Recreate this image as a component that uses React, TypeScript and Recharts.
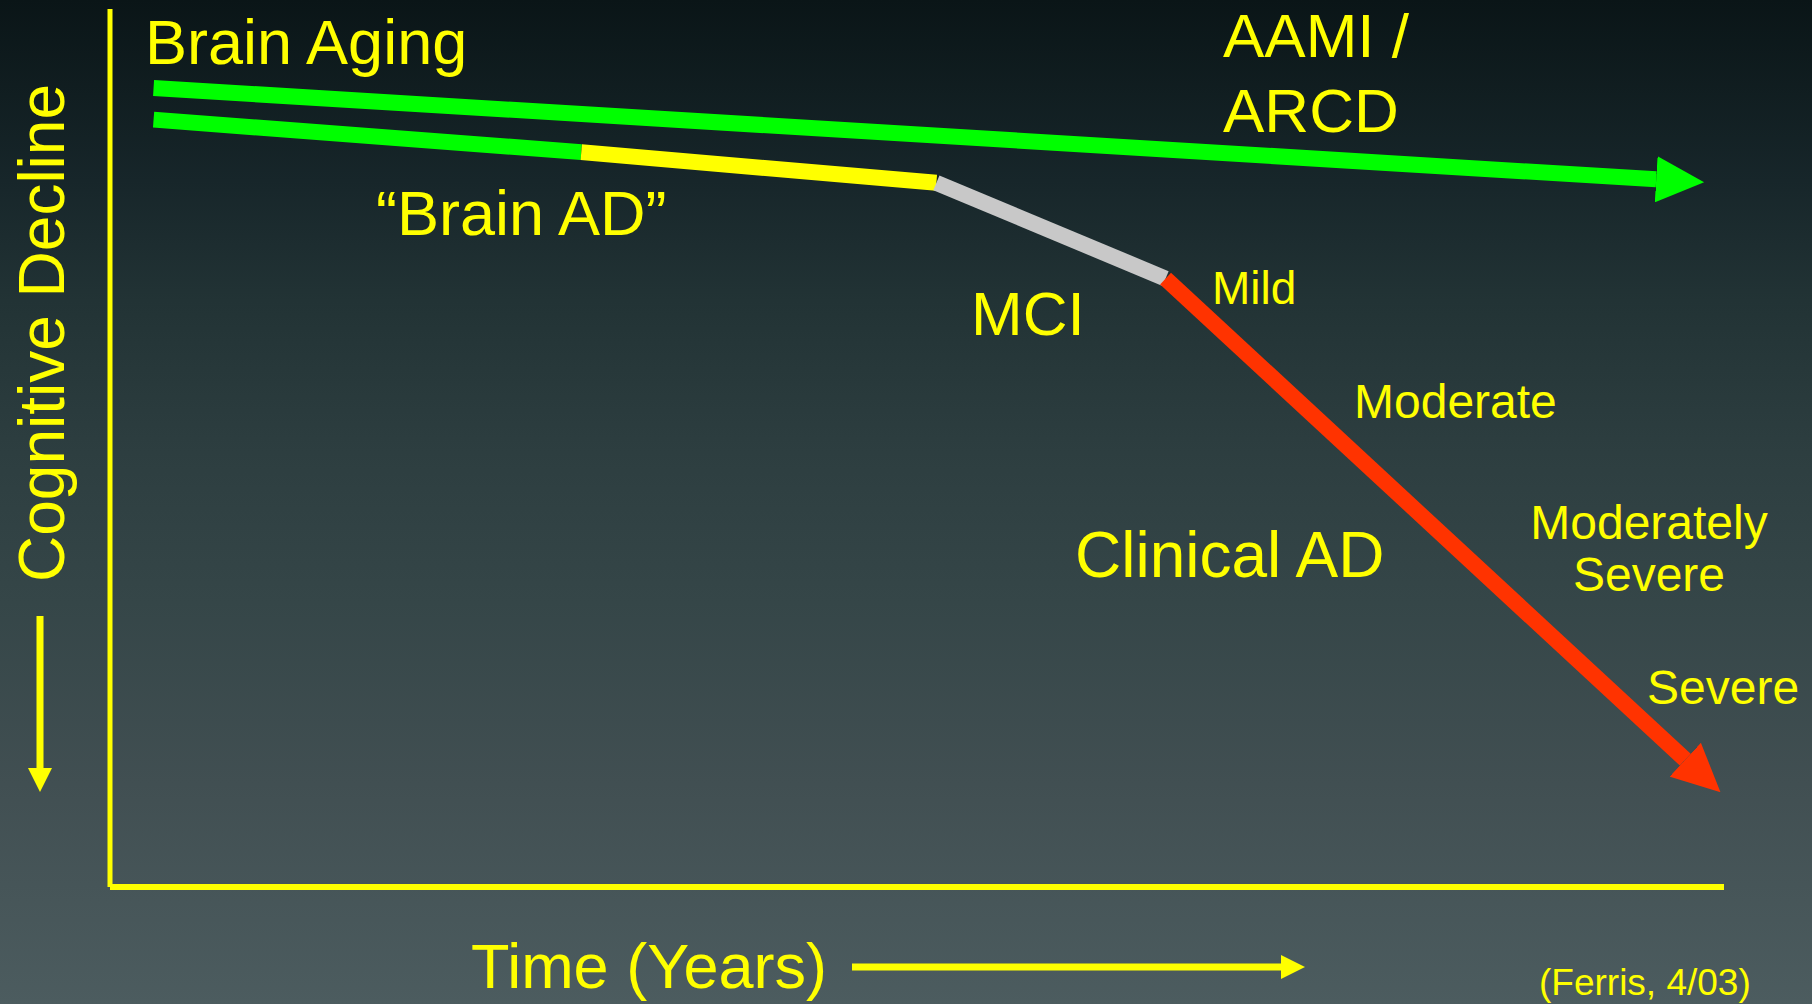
import { LineChart, Line, XAxis, YAxis, ReferenceLine } from 'recharts';

// time runs 0..100 along the x axis, cognitive level 0..100 up the y axis
const brainAging = [
  { t: 2.7, v: 91.0 },
  { t: 95.8, v: 80.6 },
];
const brainAdSilent = [
  { t: 2.7, v: 87.4 },
  { t: 29.2, v: 83.7 },
];
const brainAdLatent = [
  { t: 29.2, v: 83.7 },
  { t: 51.2, v: 80.2 },
];
const mciPhase = [
  { t: 51.2, v: 80.2 },
  { t: 65.4, v: 69.3 },
];
const clinicalAd = [
  { t: 65.4, v: 69.3 },
  { t: 97.6, v: 14.5 },
];

const W = 1812;
const H = 1004;
const YELLOW = '#ffff00';
const FONT = '"Liberation Sans", Arial, "DejaVu Sans", sans-serif';

const Markers = () => (
  <svg width={0} height={0} style={{ position: 'absolute' }}>
    <defs>
      <marker id="bigArrowGreen" markerUnits="userSpaceOnUse" viewBox="0 0 48 46"
        markerWidth={48} markerHeight={46} refX={0} refY={23} orient="auto">
        <path d="M0,0 L48,23 L0,46 z" fill="#00ff00" />
      </marker>
      <marker id="bigArrowRed" markerUnits="userSpaceOnUse" viewBox="0 0 48 46"
        markerWidth={48} markerHeight={46} refX={0} refY={23} orient="auto">
        <path d="M0,0 L48,23 L0,46 z" fill="#ff3300" />
      </marker>
      <marker id="smallArrow" markerUnits="userSpaceOnUse" viewBox="0 0 24 24"
        markerWidth={24} markerHeight={24} refX={0} refY={12} orient="auto">
        <path d="M0,0 L24,12 L0,24 z" fill={YELLOW} />
      </marker>
    </defs>
  </svg>
);

const Labels = () => (
  <svg width={W} height={H} style={{ position: 'absolute', left: 0, top: 0, pointerEvents: 'none' }}>
    <g fill={YELLOW} fontFamily={FONT}>
      <text x={145} y={64} fontSize={63}>Brain Aging</text>
      <text x={376} y={235} fontSize={63}>“Brain AD”</text>
      <text x={1223} y={57} fontSize={62}>AAMI /</text>
      <text x={1223} y={132} fontSize={62}>ARCD</text>
      <text x={971} y={335} fontSize={62}>MCI</text>
      <text x={1212} y={304} fontSize={46}>Mild</text>
      <text x={1354} y={418} fontSize={48}>Moderate</text>
      <text x={1649} y={539} fontSize={48} textAnchor="middle">Moderately</text>
      <text x={1649} y={591} fontSize={48} textAnchor="middle">Severe</text>
      <text x={1647} y={704} fontSize={48}>Severe</text>
      <text x={1075} y={577} fontSize={64}>Clinical AD</text>
      <text x={471} y={988} fontSize={63}>Time (Years)</text>
      <text x={1539} y={995} fontSize={37}>(Ferris, 4/03)</text>
      <text x={64} y={333} fontSize={64} textAnchor="middle" transform="rotate(-90, 64, 333)">
        Cognitive Decline
      </text>
    </g>
    <line x1={852} y1={967} x2={1281} y2={967} stroke={YELLOW} strokeWidth={7} markerEnd="url(#smallArrow)" />
    <line x1={40} y1={616} x2={40} y2={768} stroke={YELLOW} strokeWidth={7} markerEnd="url(#smallArrow)" />
  </svg>
);

export default function App() {
  return (
    <div
      style={{
        position: 'absolute',
        left: 0,
        top: 0,
        width: W,
        height: H,
        overflow: 'hidden',
        background: 'linear-gradient(180deg, #0a1517 0%, #17262a 18%, #223335 30%, #2d3e40 45%, #354648 60%, #414f52 78%, #4c5c5f 100%)',
      }}
    >
      <Markers />
      <LineChart width={W} height={H} margin={{ top: 9, right: 88, bottom: 117, left: 110 }}>
        <XAxis type="number" dataKey="t" domain={[0, 100]} hide />
        <YAxis type="number" domain={[0, 100]} hide />
        <ReferenceLine x={0} stroke={YELLOW} strokeWidth={5} />
        <ReferenceLine y={0} stroke={YELLOW} strokeWidth={6} />
        <Line data={brainAging} dataKey="v" stroke="#00ff00" strokeWidth={16} dot={false} activeDot={false}
          isAnimationActive={false} markerEnd="url(#bigArrowGreen)" />
        <Line data={brainAdSilent} dataKey="v" stroke="#00ff00" strokeWidth={16} dot={false} activeDot={false}
          isAnimationActive={false} />
        <Line data={brainAdLatent} dataKey="v" stroke="#ffff00" strokeWidth={16} dot={false} activeDot={false}
          isAnimationActive={false} />
        <Line data={mciPhase} dataKey="v" stroke="#c8c8c8" strokeWidth={16} dot={false} activeDot={false}
          isAnimationActive={false} />
        <Line data={clinicalAd} dataKey="v" stroke="#ff3300" strokeWidth={16} dot={false} activeDot={false}
          isAnimationActive={false} markerEnd="url(#bigArrowRed)" />
      </LineChart>
      <Labels />
    </div>
  );
}
